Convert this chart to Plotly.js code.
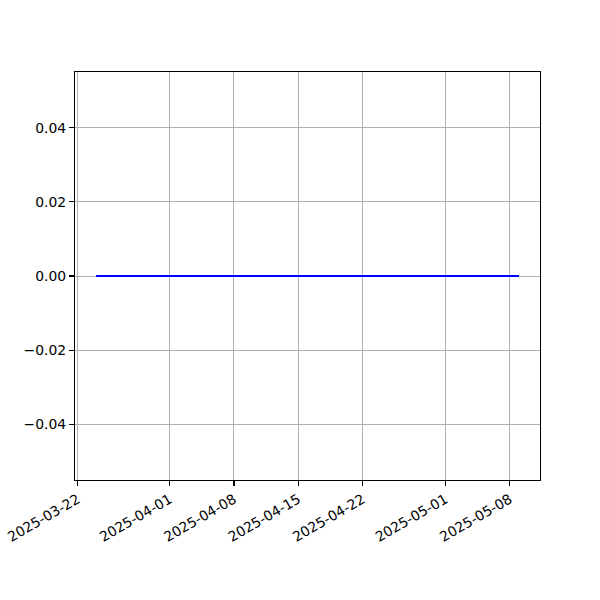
<!DOCTYPE html>
<html>
<head>
<meta charset="utf-8">
<script src="https://cdn.plot.ly/plotly-3.0.1.min.js"></script>
<style>html,body{margin:0;padding:0;background:#fff;}</style>
</head>
<body>
<div id="chart" style="width:600px;height:600px;"></div>
<script>
const dates = ["2025-03-24","2025-03-31","2025-04-07","2025-04-14","2025-04-21","2025-04-28","2025-05-05","2025-05-09"];
const values = [0, 0, 0, 0, 0, 0, 0, 0];
const xTickVals = ["2025-03-22","2025-04-01","2025-04-08","2025-04-15","2025-04-22","2025-05-01","2025-05-08"];
const yTickVals = [-0.04, -0.02, 0, 0.02, 0.04];
const yTickText = ["\u22120.04", "\u22120.02", "0.00", "0.02", "0.04"];

const font = {family: "DejaVu Sans", size: 13.9, color: "#000"};
Plotly.newPlot("chart", [{
  x: dates, y: values, type: "scatter", mode: "lines",
  line: {color: "#0000ff", width: 2}
}], {
  width: 600, height: 600,
  margin: {l: 75, r: 60, t: 72, b: 120},
  paper_bgcolor: "#fff", plot_bgcolor: "#fff",
  showlegend: false,
  font: font,
  xaxis: {
    type: "date",
    range: ["2025-03-21 17:00", "2025-05-11 07:00"],
    tickvals: xTickVals, ticktext: xTickVals,
    tickangle: -30,
    showgrid: true, gridcolor: "#b0b0b0", gridwidth: 1,
    showline: true, linecolor: "#000", linewidth: 1.1, mirror: true,
    ticks: "outside", ticklen: 5, tickwidth: 1.1, tickcolor: "#000",
    zeroline: false, tickfont: font
  },
  yaxis: {
    range: [-0.055, 0.055],
    tickvals: yTickVals, ticktext: yTickText,
    showgrid: true, gridcolor: "#b0b0b0", gridwidth: 1,
    showline: true, linecolor: "#000", linewidth: 1.1, mirror: true,
    ticks: "outside", ticklen: 5, tickwidth: 1.1, tickcolor: "#000",
    zeroline: false, tickfont: font
  }
}, {displayModeBar: false, staticPlot: true});
</script>
</body>
</html>
